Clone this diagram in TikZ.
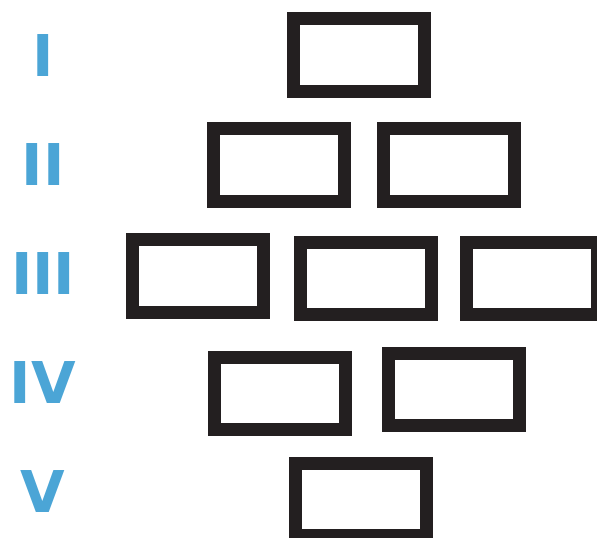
\documentclass[tikz,border=0pt]{standalone}
\usepackage{fontspec}
\newfontfamily\labfont{DejaVu Sans}
\definecolor{boxdark}{HTML}{231F20}
\definecolor{labblue}{HTML}{4BA5D6}
\tikzset{
  brick/.style={draw=boxdark, line width=13pt, fill=white, minimum width=131pt, minimum height=72.5pt, inner sep=0pt},
  rowlab/.style={text=labblue, inner sep=0pt, font=\labfont\bfseries\fontsize{57.6pt}{60pt}\selectfont}
}
\begin{document}
\begin{tikzpicture}[x=1pt,y=1pt]
\useasboundingbox (0,0) rectangle (597,-538);
\begin{scope}
\clip (0,0) rectangle (597,-538);
\node[brick] (b1) at (359.2,-55) {};
\node[brick] (b21) at (279,-165.2) {};
\node[brick] (b22) at (449.2,-165.2) {};
\node[brick] (b31) at (198.2,-276.2) {};
\node[brick] (b32) at (365.7,-278.3) {};
\node[brick] (b33) at (532.3,-278.3) {};
\node[brick] (b41) at (280.2,-393.3) {};
\node[brick] (b42) at (454.2,-389.3) {};
\node[brick] (b5) at (360.7,-499.3) {};
\end{scope}
\node[rowlab] (l1) at (43,-55.7) {I};
\node[rowlab] (l2) at (43.2,-165) {II};
\node[rowlab] (l3) at (43.2,-274) {III};
\node[rowlab] (l4) at (43,-382.7) {IV};
\node[rowlab] (l5) at (43.2,-491.7) {V};
\end{tikzpicture}
\end{document}
